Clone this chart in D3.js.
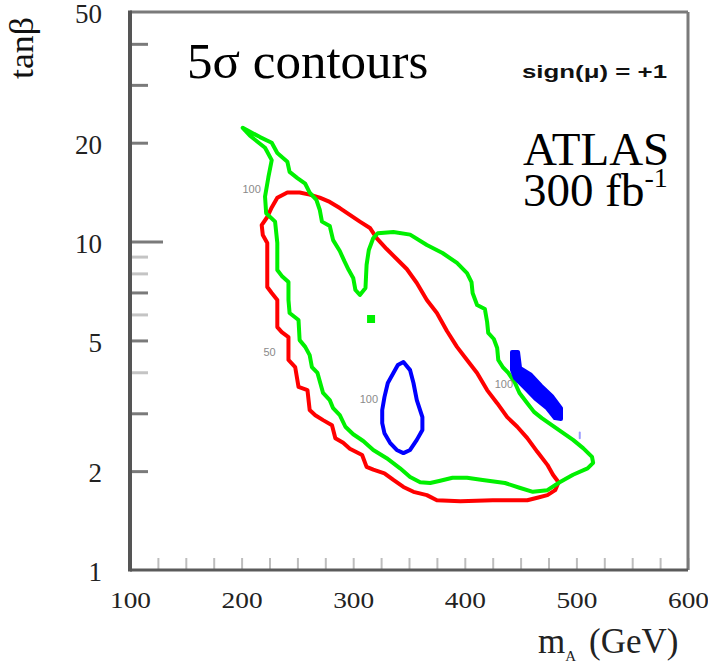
<!DOCTYPE html>
<html>
<head>
<meta charset="utf-8">
<script src="https://cdn.jsdelivr.net/npm/d3@7"></script>
<style>
  html, body { margin: 0; padding: 0; background: #fff; }
  svg { display: block; }
</style>
</head>
<body>
<svg id="chart" width="708" height="664"></svg>
<script>
// ---- axis values ----
const xLabelValues = [100, 200, 300, 400, 500, 600];
const xTickValues = [100, 125, 150, 175, 200, 225, 250, 275, 300, 325, 350, 375, 400,
                     425, 450, 475, 500, 525, 550, 575, 600];
const yLabelValues = [1, 2, 5, 10, 20, 50];
const yTickValues = [2, 3, 4, 5, 6, 7, 8, 9, 10, 20, 30, 40];
const yFaintTicks = [4, 6, 8, 9];

// ---- 5 sigma discovery contours, points as [mA (GeV), tan beta] ----
const redContour = [
  [227, 12.7], [232, 13.6], [241, 14.1], [252, 14.1], [261, 13.9], [270, 13.6],
  [279, 13.2], [288, 12.65], [297, 12.05], [306, 11.5], [315, 11.0], [321, 10.25],
  [330, 9.49], [339, 8.85], [348, 8.25], [357, 7.48], [366, 6.64], [375, 6.06],
  [384, 5.34], [393, 4.78], [402, 4.36], [411, 3.98], [420, 3.53], [429, 3.22],
  [438, 2.92], [447, 2.73], [456, 2.52], [465, 2.29], [474, 2.09], [479, 1.95],
  [484, 1.85], [481, 1.75], [474, 1.69], [465, 1.66], [456, 1.63], [425, 1.63],
  [396, 1.62], [375, 1.63], [366, 1.69], [354, 1.73], [345, 1.79], [336, 1.88],
  [328, 1.97], [318, 2.02], [312, 2.06], [308, 2.24], [297, 2.34], [291, 2.44],
  [284, 2.52], [281, 2.76], [273, 2.86], [266, 2.96], [261, 3.07], [259, 3.53],
  [251, 3.61], [248, 4.15], [242, 4.36], [242, 5.12], [236, 5.30], [232, 5.49],
  [232, 6.64], [227, 6.97], [223, 7.27], [223, 9.90], [219, 10.47], [218, 11.23],
  [223, 11.88]
];

const greenContour = [
  [201, 22.2], [216.5, 20.8], [227, 20.0], [232, 18.6], [241, 17.5], [243, 16.3],
  [250, 15.6], [257, 15.0], [261, 14.1], [267, 13.4], [270, 12.5], [272, 11.5],
  [279, 11.15], [282, 10.1], [288, 9.36], [292, 8.73], [296, 8.19], [300, 7.75],
  [302, 7.12], [306, 6.88], [311, 7.22], [312, 8.49], [314, 9.43], [318, 10.25],
  [322, 10.6], [336, 10.7], [351, 10.5], [366, 9.76], [380, 9.23], [393, 8.61],
  [402, 8.02], [406, 7.53], [407, 6.97], [411, 6.41], [418, 6.23], [420, 5.69],
  [421, 5.27], [426, 5.05], [429, 4.74], [430, 4.36], [434, 4.15], [439, 3.98],
  [445, 3.71], [449, 3.46], [456, 3.22], [462, 3.03], [469, 2.90], [478, 2.76],
  [487, 2.63], [497, 2.49], [506, 2.35], [514, 2.21], [515, 2.12], [510, 2.04],
  [497, 1.95], [485, 1.85], [474, 1.75], [461, 1.73], [449, 1.78], [436, 1.84],
  [416, 1.88], [402, 1.91], [389, 1.91], [378, 1.87], [369, 1.84], [360, 1.85],
  [351, 1.92], [342, 2.04], [330, 2.19], [318, 2.32], [309, 2.47], [300, 2.59],
  [293, 2.73], [288, 2.96], [282, 3.11], [279, 3.29], [273, 3.46], [268, 3.98],
  [263, 4.15], [261, 4.51], [257, 4.78], [252, 5.01], [251, 5.77], [243, 6.06],
  [242, 6.64], [242, 7.53], [236, 7.86], [232, 8.19], [232, 9.90], [230, 11.5],
  [222, 12.2], [221, 13.7], [224, 15.7], [227, 17.7], [221, 19.3], [207.5, 21.0]
];

const greenIsland = [[316, 5.81]];

const blueContourLow = [
  [345, 4.30], [351, 4.06], [354, 3.71], [357, 3.29], [362, 2.92], [362, 2.67],
  [357, 2.49], [351, 2.32], [345, 2.27], [339, 2.32], [333, 2.44], [328, 2.61],
  [326, 2.80], [326, 3.07], [328, 3.36], [331, 3.71], [336, 3.98], [340, 4.21]
];

const blueContourHigh = [
  [442.3, 4.61], [447.7, 4.61], [449.5, 4.12], [459.3, 3.93], [468.3, 3.64],
  [478.2, 3.38], [486.2, 3.11], [486.2, 2.88], [480.8, 2.90], [473.7, 3.11],
  [462.9, 3.33], [454.0, 3.58], [445.0, 3.84], [442.3, 4.06]
];

const blueSpeck = [[503, 2.62], [503, 2.52]];

// contour level annotations
const levelLabels = [
  { text: "100", m: 209, t: 14.4 },
  { text: "50",  m: 225, t: 4.61 },
  { text: "100", m: 314, t: 3.31 },
  { text: "100", m: 435, t: 3.69 }
];

// ---- layout ----
const svg = d3.select("#chart");
const plotLeft = 130, plotRight = 688, plotTop = 12, plotBottom = 570;

const x = d3.scaleLinear().domain([100, 600]).range([plotLeft, plotRight]);
const y = d3.scaleLog().domain([1, 50]).range([plotBottom, plotTop]);

const serif = "'Liberation Serif', 'Times New Roman', serif";
const sans = "'Liberation Sans', Arial, sans-serif";

// x minor ticks (pointing up into the frame)
const xTickAxis = svg.append("g")
  .attr("transform", `translate(0,${plotBottom})`)
  .call(d3.axisBottom(x).tickValues(xTickValues).tickSize(-12).tickFormat(""));
xTickAxis.select(".domain").remove();
xTickAxis.selectAll(".tick line").attr("stroke", "#bdbdbd").attr("stroke-width", 2);

// x labels
const xLabelAxis = svg.append("g")
  .attr("transform", `translate(0,${plotBottom})`)
  .call(d3.axisBottom(x).tickValues(xLabelValues).tickSize(0).tickFormat(d3.format("d")));
xLabelAxis.select(".domain").remove();
xLabelAxis.selectAll(".tick text")
  .attr("y", 38).attr("dy", null)
  .attr("font-family", serif).attr("font-size", 23)
  .attr("textLength", 41).attr("lengthAdjust", "spacingAndGlyphs")
  .attr("fill", "#222");

// y ticks (pointing right into the frame)
const yTickAxis = svg.append("g")
  .attr("transform", `translate(${plotLeft},0)`)
  .call(d3.axisLeft(y).tickValues(yTickValues).tickSize(-18).tickFormat(""));
yTickAxis.select(".domain").remove();
yTickAxis.selectAll(".tick line")
  .attr("stroke-width", 3)
  .attr("stroke", d => yFaintTicks.includes(d) ? "#c4c4c4" : "#7a7a7a")
  .attr("x2", d => d === 10 ? 33 : 18);

// y labels
const yLabelAxis = svg.append("g")
  .attr("transform", `translate(${plotLeft},0)`)
  .call(d3.axisLeft(y).tickValues(yLabelValues).tickSize(0).tickPadding(28)
    .tickFormat(d3.format("d")));
yLabelAxis.select(".domain").remove();
yLabelAxis.selectAll(".tick text")
  .attr("font-family", serif).attr("font-size", 27)
  .attr("dy", "0.4em")
  .attr("fill", "#222");

// frame
svg.append("line").attr("x1", plotLeft).attr("x2", plotRight).attr("y1", plotTop).attr("y2", plotTop)
  .attr("stroke", "#7a7a7a").attr("stroke-width", 3);
svg.append("line").attr("x1", plotRight).attr("x2", plotRight).attr("y1", plotTop).attr("y2", plotBottom)
  .attr("stroke", "#7a7a7a").attr("stroke-width", 3);
svg.append("line").attr("x1", plotLeft).attr("x2", plotRight).attr("y1", plotBottom).attr("y2", plotBottom)
  .attr("stroke", "#5a5a5a").attr("stroke-width", 3);
svg.append("line").attr("x1", plotLeft).attr("x2", plotLeft)
  .attr("y1", plotTop - 1.5).attr("y2", plotBottom + 1.5)
  .attr("stroke", "#555").attr("stroke-width", 4);

// contours
const closedLine = d3.line()
  .x(d => x(d[0])).y(d => y(d[1]))
  .curve(d3.curveLinearClosed);
const openLine = d3.line().x(d => x(d[0])).y(d => y(d[1]));

const plot = svg.append("g").attr("fill", "none")
  .attr("stroke-linejoin", "round").attr("stroke-linecap", "round");

plot.append("path").datum(redContour).attr("d", closedLine)
  .attr("stroke", "#ff0000").attr("stroke-width", 4);
plot.append("path").datum(greenContour).attr("d", closedLine)
  .attr("stroke", "#00f000").attr("stroke-width", 4);
plot.selectAll(".island").data(greenIsland).join("path")
  .attr("class", "island")
  .attr("transform", d => `translate(${x(d[0])},${y(d[1])})`)
  .attr("d", d3.symbol().type(d3.symbolSquare).size(64))
  .attr("fill", "#00f000").attr("stroke", "none");
plot.append("path").datum(blueContourLow).attr("d", closedLine)
  .attr("stroke", "#0000ff").attr("stroke-width", 4);
plot.append("path").datum(blueContourHigh).attr("d", closedLine)
  .attr("stroke", "#0000ff").attr("stroke-width", 4).attr("fill", "#0000ff");
plot.append("path").datum(blueSpeck).attr("d", openLine)
  .attr("stroke", "#9a9aff").attr("stroke-width", 2);

// contour level labels
svg.append("g").selectAll("text").data(levelLabels).join("text")
  .attr("x", d => x(d.m)).attr("y", d => y(d.t))
  .attr("dy", "0.35em").attr("text-anchor", "middle")
  .attr("font-family", sans).attr("font-size", 11)
  .attr("fill", "#8a8a8a")
  .text(d => d.text);

// axis titles
svg.append("text")
  .attr("transform", "translate(33,48) rotate(-90)")
  .attr("text-anchor", "middle")
  .attr("font-family", serif).attr("font-size", 34)
  .attr("textLength", 62).attr("lengthAdjust", "spacingAndGlyphs")
  .attr("fill", "#111")
  .text("tanβ");

const xTitle = svg.append("text")
  .attr("x", 538).attr("y", 653)
  .attr("font-family", serif).attr("font-size", 35).attr("fill", "#222");
xTitle.append("tspan").text("m");
xTitle.append("tspan").attr("font-size", 15).attr("dy", 8).text("A");
xTitle.append("tspan").attr("dy", -8).attr("dx", 13).text("(GeV)");

// annotations
svg.append("text")
  .attr("x", 187).attr("y", 78)
  .attr("font-family", serif).attr("font-size", 51).attr("fill", "#000")
  .text("5σ contours");

svg.append("text")
  .attr("x", 522).attr("y", 78)
  .attr("font-family", sans).attr("font-weight", "bold").attr("font-size", 19)
  .attr("textLength", 145).attr("lengthAdjust", "spacingAndGlyphs")
  .attr("fill", "#111")
  .text("sign(μ) = +1");

svg.append("text")
  .attr("x", 523).attr("y", 165)
  .attr("font-family", serif).attr("font-size", 47).attr("fill", "#000")
  .text("ATLAS");

const lumi = svg.append("text")
  .attr("x", 523).attr("y", 206)
  .attr("font-family", serif).attr("font-size", 47).attr("fill", "#000");
lumi.append("tspan").text("300 fb");
lumi.append("tspan").attr("font-size", 28).attr("dy", -19).text("-1");
</script>
</body>
</html>
